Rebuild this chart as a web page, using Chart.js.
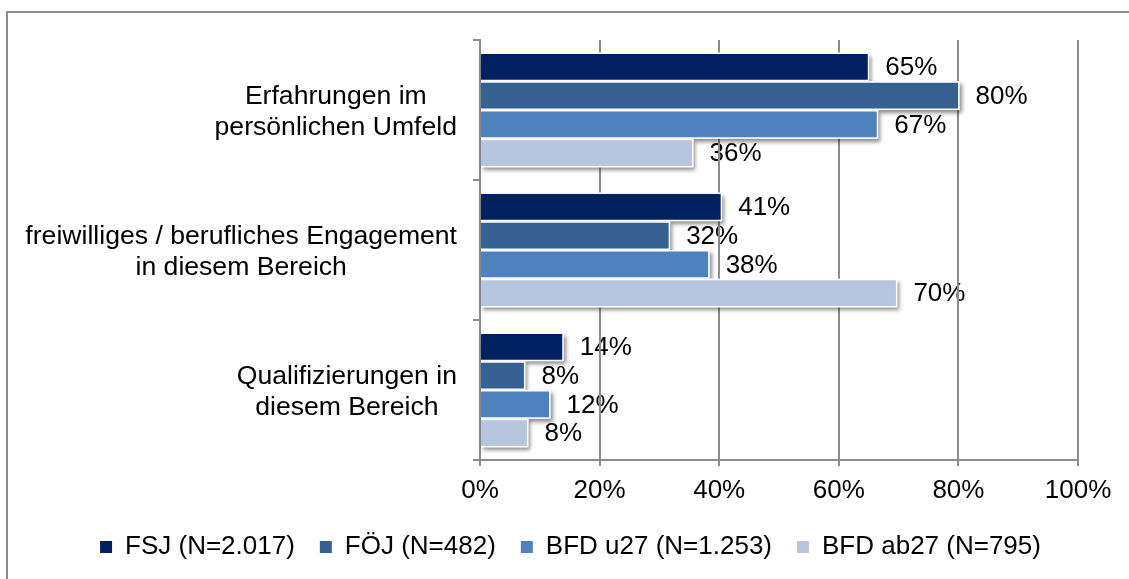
<!DOCTYPE html>
<html>
<head>
<meta charset="utf-8">
<title>Chart</title>
<script src="https://cdn.jsdelivr.net/npm/chart.js@4.4.1/dist/chart.umd.min.js"></script>
<style>
html, body { margin: 0; padding: 0; background: #fff; overflow: hidden; }
#wrap { position: relative; width: 1129px; height: 579px; }
#frame { position: absolute; left: 6px; top: 11px; width: 1300px; height: 800px;
  border-left: 2px solid #8c8c8c; border-top: 2px solid #8c8c8c; }
canvas { position: absolute; left: 0; top: 0; }
</style>
</head>
<body>
<div id="wrap">
  <div id="frame"></div>
  <canvas id="mycanvas" width="1129" height="579"></canvas>
</div>
<script>
// data
var categories = [
	["Erfahrungen im", "persönlichen Umfeld"],
	["freiwilliges / berufliches Engagement", "in diesem Bereich"],
	["Qualifizierungen in", "diesem Bereich"]
];
var seriesNames = ["FSJ (N=2.017)", "FÖJ (N=482)", "BFD u27 (N=1.253)", "BFD ab27 (N=795)"];
var fsj     = [65.1, 40.5, 14.0];
var foej    = [80.2, 31.8, 7.6];
var bfdU27  = [66.6, 38.4, 11.8];
var bfdAb27 = [35.7, 69.8, 8.1];
var xTicks  = [0, 20, 40, 60, 80, 100];

var colors = ['#002060', '#376092', '#4F81BD', '#B7C5DF'];
var fontName = "'Liberation Sans', Arial, sans-serif";
var gridGray = '#8c8c8c';

// soft drop shadow behind each bar
var barShadow = {
	id: 'barShadow',
	beforeDatasetsDraw: function(chart) {
		var ctx = chart.ctx;
		ctx.save();
		ctx.shadowColor = 'rgba(0,0,0,0.45)';
		ctx.shadowBlur = 4;
		ctx.shadowOffsetX = 2;
		ctx.shadowOffsetY = 3;
		ctx.fillStyle = '#fff';
		chart.data.datasets.forEach(function(ds, i) {
			chart.getDatasetMeta(i).data.forEach(function(bar) {
				var l = Math.min(bar.base, bar.x), r = Math.max(bar.base, bar.x);
				ctx.fillRect(l, bar.y - bar.height / 2, r - l, bar.height);
			});
		});
		ctx.restore();
	}
};

// percent labels right of the bars (drawn first so gridlines cross them)
var valueLabels = {
	id: 'valueLabels',
	beforeDraw: function(chart) {
		var ctx = chart.ctx;
		ctx.save();
		ctx.font = '26px ' + fontName;
		ctx.fillStyle = '#000';
		ctx.textAlign = 'left';
		ctx.textBaseline = 'middle';
		chart.data.datasets.forEach(function(ds, i) {
			chart.getDatasetMeta(i).data.forEach(function(bar, j) {
				ctx.fillText(Math.round(ds.data[j]) + '%', bar.x + 16, bar.y + 1);
			});
		});
		ctx.restore();
	}
};

// category labels: each one centred in its own box, box right-aligned to the axis
var categoryLabels = {
	id: 'categoryLabels',
	afterDraw: function(chart) {
		var ctx = chart.ctx, yScale = chart.scales.y;
		ctx.save();
		ctx.font = '26.6px ' + fontName;
		ctx.fillStyle = '#000';
		ctx.textAlign = 'center';
		ctx.textBaseline = 'middle';
		var right = yScale.right - 23;
		categories.forEach(function(lines, i) {
			var w = 0;
			lines.forEach(function(t) { w = Math.max(w, ctx.measureText(t).width); });
			var cx = right - w / 2;
			var cy = yScale.getPixelForValue(i);
			lines.forEach(function(t, k) {
				ctx.fillText(t, cx, cy + (k - (lines.length - 1) / 2) * 31 + 2);
			});
		});
		ctx.restore();
	}
};

var chartdata = {
	labels: categories,
	datasets: [
		{ label: seriesNames[0], data: fsj,     backgroundColor: colors[0] },
		{ label: seriesNames[1], data: foej,    backgroundColor: colors[1] },
		{ label: seriesNames[2], data: bfdU27,  backgroundColor: colors[2] },
		{ label: seriesNames[3], data: bfdAb27, backgroundColor: colors[3] }
	]
};
chartdata.datasets.forEach(function(ds) {
	ds.borderColor = '#ffffff';
	ds.borderWidth = 1.5;
	ds.barPercentage = 1;
	ds.categoryPercentage = 0.82;
});

var ctx = document.getElementById('mycanvas');
var barGraph = new Chart(ctx, {
	type: 'bar',
	data: chartdata,
	plugins: [valueLabels, barShadow, categoryLabels],
	options: {
		indexAxis: 'y',
		responsive: false,
		animation: false,
		layout: { padding: { left: 63, right: 51, top: 40, bottom: 9 } },
		plugins: {
			tooltip: { enabled: false },
			legend: {
				position: 'bottom',
				labels: {
					font: { size: 26, family: fontName },
					color: '#000',
					boxWidth: 12,
					boxHeight: 12,
					padding: 25,
					generateLabels: function(chart) {
						return Chart.defaults.plugins.legend.labels.generateLabels(chart).map(function(item) {
							item.lineWidth = 0;
							item.strokeStyle = item.fillStyle;
							return item;
						});
					}
				}
			}
		},
		scales: {
			x: {
				min: 0,
				max: 100,
				afterBuildTicks: function(scale) {
					scale.ticks = xTicks.map(function(v) { return { value: v }; });
				},
				afterFit: function(scale) { scale.height = 49; },
				ticks: {
					callback: function(v) { return v + '%'; },
					font: { size: 26, family: fontName },
					color: '#000',
					padding: 9,
					maxRotation: 0
				},
				grid: { color: gridGray, lineWidth: 2, tickLength: 6 },
				border: { color: gridGray, width: 2 }
			},
			y: {
				afterFit: function(scale) { scale.width = 417; },
				ticks: { display: false },
				grid: { drawOnChartArea: false, color: gridGray, lineWidth: 2, tickLength: 7, offset: true },
				border: { color: gridGray, width: 2 }
			}
		}
	}
});
</script>
</body>
</html>
